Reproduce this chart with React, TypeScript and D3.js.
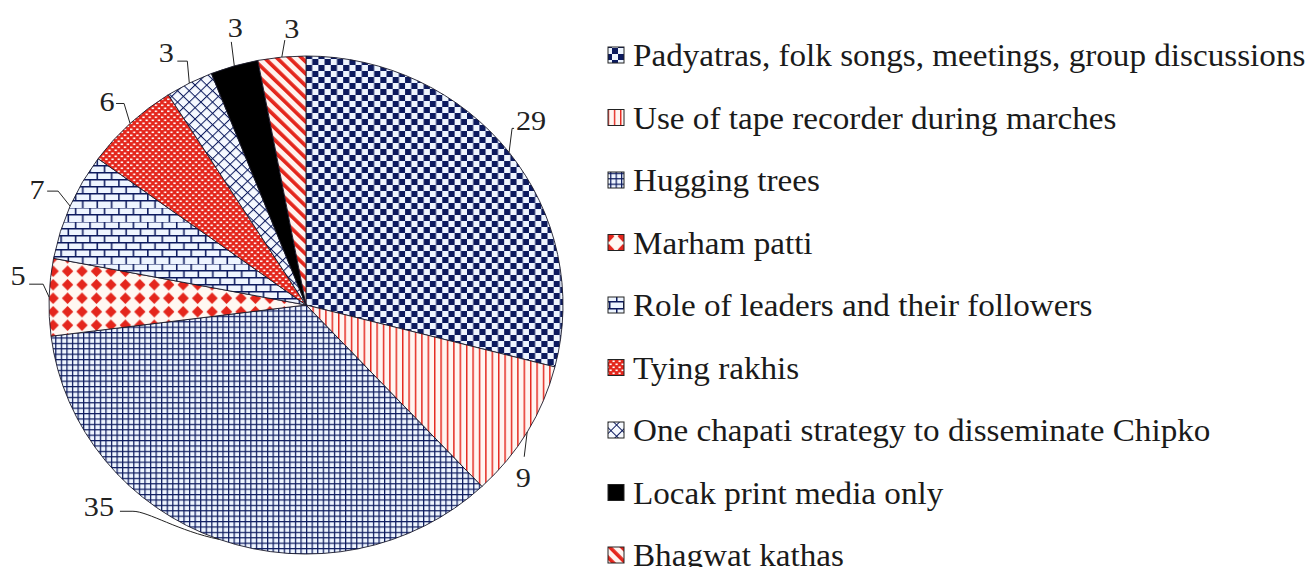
import React from "react";
import * as d3 from "d3";

const categories = [
  "Padyatras, folk songs, meetings, group discussions",
  "Use of tape recorder during marches",
  "Hugging trees",
  "Marham patti",
  "Role of leaders and their followers",
  "Tying rakhis",
  "One chapati strategy to disseminate Chipko",
  "Locak print media only",
  "Bhagwat kathas",
];
const values = [29, 9, 35, 5, 7, 6, 3, 3, 3];
const valueLabels = ["29", "9", "35", "5", "7", "6", "3", "3", "3"];

const patternIds = ["pChecker", "pVert", "pGrid", "pDiamond", "pBrick", "pDots", "pCross", "pSolid", "pStripe"];

// label placement offsets relative to arc point: [elbowDx, elbowDy, endDx, endDy, labelDx, labelDy]
const labelLayout = [
  [3, -24, 5, -24, 22, -32],
  [-3, 25, -3, 25, -4, 46],
  [-86, -28, -99, -28, -120, -33],
  [-6, -13, -20, -13, -31, -22],
  [-12, -15, -23, -15, -33, -17],
  [-6, -20, -14, -20, -23, -22],
  [-2, -22, -12, -22, -23, -31],
  [-3, -24, -3, -24, 1, -38],
  [3, -17, 3, -17, 10, -29],
];

const NAVY = "#0c1a5e";
const LIGHT = "#eef5ff";
const RED = "#e4261c";
const SERIF = "'Liberation Serif', 'Times New Roman', serif";

export default function App() {
  const W = 1316, H = 567;
  const cx = 306, cy = 305, ry = 249, rx = 257;
  const sx = rx / ry;
  const pie = d3.pie<number>().sort(null).value((d) => d)(values);
  const arc = d3.arc<d3.PieArcDatum<number>>().innerRadius(0).outerRadius(ry);

  const legendY = d3.scalePoint<number>().domain(d3.range(categories.length)).range([66, 566]);

  return (
    <svg width={W} height={H} style={{ position: "absolute", left: 0, top: 0, background: "#fff" }}>
      <defs>
        <pattern id="pChecker" width={12} height={12} patternUnits="userSpaceOnUse">
          <rect width={12} height={12} fill={LIGHT} />
          <rect x={0} y={0} width={6} height={6} fill={NAVY} />
          <rect x={6} y={6} width={6} height={6} fill={NAVY} />
        </pattern>
        <pattern id="pVert" width={6.2} height={10} patternUnits="userSpaceOnUse">
          <rect width={6.2} height={10} fill="#fff5f1" />
          <rect x={0} y={0} width={1.4} height={10} fill={RED} />
        </pattern>
        <pattern id="pGrid" width={5.4} height={5.4} patternUnits="userSpaceOnUse">
          <rect width={5.4} height={5.4} fill={LIGHT} />
          <rect x={0} y={0} width={1.2} height={5.4} fill={NAVY} />
          <rect x={0} y={0} width={5.4} height={1.2} fill={NAVY} />
        </pattern>
        <pattern id="pDiamond" width={14} height={13.5} patternUnits="userSpaceOnUse">
          <rect width={14} height={13.5} fill="#fff8f2" />
          <polygon points="7,1 12.5,6.75 7,12.5 1.5,6.75" fill={RED} />
        </pattern>
        <pattern id="pBrick" width={14} height={14} patternUnits="userSpaceOnUse">
          <rect width={14} height={14} fill={LIGHT} />
          <rect x={0} y={0} width={14} height={1.5} fill={NAVY} />
          <rect x={0} y={7} width={14} height={1.5} fill={NAVY} />
          <rect x={0} y={0} width={1.5} height={7} fill={NAVY} />
          <rect x={7} y={7} width={1.5} height={7} fill={NAVY} />
        </pattern>
        <pattern id="pDots" width={6} height={6} patternUnits="userSpaceOnUse">
          <rect width={6} height={6} fill={RED} />
          <rect x={0.5} y={0.5} width={2.2} height={1.6} fill="#fff" />
          <rect x={3.5} y={3.5} width={2.2} height={1.6} fill="#fff" />
        </pattern>
        <pattern id="pCross" width={8} height={8} patternUnits="userSpaceOnUse" patternTransform="rotate(45)">
          <rect width={8} height={8} fill="#f6f9ff" />
          <rect x={0} y={0} width={1} height={8} fill={NAVY} />
          <rect x={0} y={0} width={8} height={1} fill={NAVY} />
        </pattern>
        <pattern id="pSolid" width={4} height={4} patternUnits="userSpaceOnUse">
          <rect width={4} height={4} fill="#000" />
        </pattern>
        <pattern id="pStripe" width={8.5} height={8.5} patternUnits="userSpaceOnUse" patternTransform="rotate(-45)">
          <rect width={8.5} height={8.5} fill="#fff3ef" />
          <rect x={0} y={0} width={3.6} height={8.5} fill={RED} />
        </pattern>
      </defs>

      <g transform={`translate(${cx},${cy}) scale(${sx},1)`}>
        {pie.map((p, i) => (
          <path
            key={i}
            d={arc(p) || ""}
            fill={`url(#${patternIds[i]})`}
            stroke="#1a1a2a"
            strokeWidth={0.9}
            vectorEffect="non-scaling-stroke"
          />
        ))}
      </g>

      <g fontFamily={SERIF} fontSize={27} fill="#222">
        {pie.map((p, i) => {
          const mid = (p.startAngle + p.endAngle) / 2;
          const ax = cx + rx * Math.sin(mid);
          const ay = cy - ry * Math.cos(mid);
          const [ex, ey, nx, ny, lx, ly] = labelLayout[i];
          const path =
            i === 2
              ? `M${ax},${ay} C${ax - 40},${ay - 8} ${ax + ex + 15},${ay + ey} ${ax + ex},${ay + ey} L${ax + nx},${ay + ny}`
              : `M${ax},${ay} L${ax + ex},${ay + ey} L${ax + nx},${ay + ny}`;
          return (
            <g key={i}>
              <path d={path} fill="none" stroke="#222" strokeWidth={1} />
              <g transform={`translate(${ax + lx},${ay + ly}) scale(1.12,1)`}>
                <text x={0} y={0} textAnchor="middle" dominantBaseline="central">
                  {valueLabels[i]}
                </text>
              </g>
            </g>
          );
        })}
      </g>

      <g fontFamily={SERIF} fontSize={31} fill="#1a1a1a">
        {categories.map((c, i) => {
          const y = legendY(i) as number;
          return (
            <g key={i}>
              <rect x={608} y={y - 19} width={16} height={16} fill={`url(#${patternIds[i]})`} stroke="#222" strokeWidth={1} />
              <g transform={`translate(633,${y}) scale(1.07,1)`}>
                <text x={0} y={0}>
                  {c}
                </text>
              </g>
            </g>
          );
        })}
      </g>
    </svg>
  );
}
